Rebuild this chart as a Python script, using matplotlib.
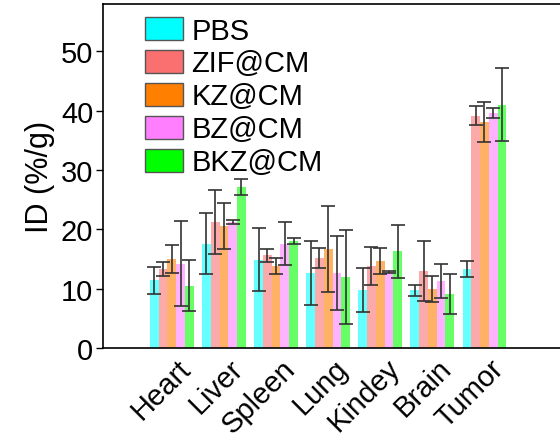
import numpy as np
import matplotlib.pyplot as plt
from matplotlib.patches import Patch

plt.rcParams['font.family'] = ['Liberation Sans', 'DejaVu Sans']

# Dữ liệu
organs = ['Heart', 'Liver', 'Spleen', 'Lung', 'Kindey', 'Brain', 'Tumor']
groups = ['PBS', 'ZIF@CM', 'KZ@CM', 'BZ@CM', 'BKZ@CM']

pbs = [11.4, 17.6, 14.9, 12.6, 9.8, 9.7, 13.3]
zif = [13.3, 21.2, 15.6, 15.2, 13.9, 13.0, 39.1]
kz = [15.0, 20.5, 13.8, 16.7, 14.6, 9.9, 38.1]
bz = [14.2, 21.2, 17.6, 12.6, 12.8, 11.3, 39.6]
bkz = [10.5, 27.1, 18.0, 12.0, 16.3, 9.1, 41.0]

pbs_err = [2.3, 5.2, 5.3, 5.4, 3.7, 1.0, 1.4]
zif_err = [1.2, 5.4, 1.1, 1.7, 3.2, 5.1, 1.6]
kz_err = [2.4, 3.9, 1.3, 7.3, 2.2, 2.2, 3.4]
bz_err = [7.2, 0.3, 3.6, 6.2, 0.2, 2.8, 0.9]
bkz_err = [4.3, 1.4, 0.5, 7.9, 4.5, 3.3, 6.2]

values = [pbs, zif, kz, bz, bkz]
errors = [pbs_err, zif_err, kz_err, bz_err, bkz_err]
colors = ['#00ffff', '#fa7070', '#ff7f00', '#ff7fff', '#00ff00']

fig = plt.figure(figsize=(5.6, 4.39), dpi=100)
ax = fig.add_axes([0.184, 0.205, 0.83, 0.784])

x = np.arange(len(organs))
w = 0.168
for i in range(len(groups)):
    ax.bar(x + (i - 2) * w, values[i], w, color=colors[i], alpha=0.6, linewidth=0)
    ax.errorbar(x + (i - 2) * w, values[i], yerr=errors[i], fmt='none',
                ecolor='#333333', elinewidth=1.2, capsize=5, capthick=1.2)

ax.set_xlim(-1.32, 7.6)
ax.set_ylim(0, 58)
ax.set_yticks([0, 10, 20, 30, 40, 50])
ax.set_xticks(x + 0.1)
ax.set_xticklabels(organs, rotation=45, ha='right', rotation_mode='anchor', fontsize=21)
ax.tick_params(axis='x', length=0, pad=4)
ax.tick_params(axis='y', labelsize=21, direction='out', length=5, width=1, pad=2)
ax.set_ylabel('ID (%/g)', fontsize=22, labelpad=4)
for s in ax.spines.values():
    s.set_linewidth(1.2)
ax.spines['right'].set_visible(False)

handles = [Patch(facecolor=c, edgecolor='#555555') for c in colors]
ax.legend(handles, groups, loc='upper left', bbox_to_anchor=(0.065, 0.997),
          frameon=False, fontsize=21, handlelength=1.3, handleheight=0.85,
          labelspacing=0.17, handletextpad=0.3, borderaxespad=0)

fig.savefig('out.png', dpi=100)
